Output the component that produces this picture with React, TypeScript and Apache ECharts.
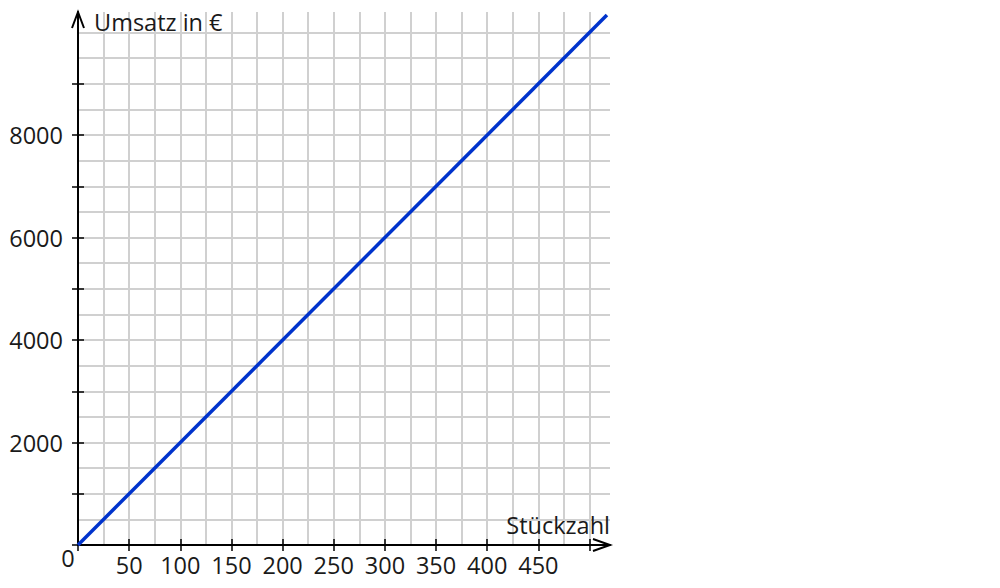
import React, { useEffect, useRef } from "react";
import * as echarts from "echarts";

// Data
const units = [0, 517];
const revenue = [0, 10340];
const xTickLabels = [50, 100, 150, 200, 250, 300, 350, 400, 450];
const yTickLabels = [2000, 4000, 6000, 8000];
const xAxisTitle = "Stückzahl";
const yAxisTitle = "Umsatz in €";

const X_MAX = 520;
const Y_MAX = 10400;
const X_GRID_MAX = 500;
const Y_GRID_MAX = 10000;
const Y_TICK_MAX = 9000;

const FONT = "'Open Sans', 'Noto Sans', sans-serif";
const TEXT_COLOR = "#1a1a1a";
const FS = 23.5;

export default function App() {
  const ref = useRef<HTMLDivElement>(null);
  useEffect(() => {
    document.body.style.margin = "0";
    const chart = echarts.init(ref.current!, null, { renderer: "svg" });
    const L = 78, T = 12, W = 532, H = 533;
    const gridColor = "#d0d0d0";
    const hidden = { show: false };
    const off = {
      axisLine: { show: false },
      axisTick: { show: false },
      axisLabel: { show: false },
      splitLine: { show: false },
    };
    chart.setOption({
      animation: false,
      textStyle: { fontFamily: FONT },
      grid: [
        { left: L, top: T, width: W, height: H },
        { left: L, top: T, width: (W * X_GRID_MAX) / X_MAX, height: H },
        { left: L, top: T + (H * (Y_MAX - Y_GRID_MAX)) / Y_MAX, width: W, height: (H * Y_GRID_MAX) / Y_MAX },
        { left: L, top: T + (H * (Y_MAX - Y_TICK_MAX)) / Y_MAX, width: W, height: (H * Y_TICK_MAX) / Y_MAX },
      ],
      xAxis: [
        { type: "value", gridIndex: 0, min: 0, max: X_MAX, z: 5, ...off, axisLine: { show: true, onZero: false, lineStyle: { color: "#000", width: 2 } } },
        { type: "value", gridIndex: 1, min: 0, max: X_GRID_MAX, interval: 25, z: 0, ...off, splitLine: { show: true, lineStyle: { color: gridColor, width: 2 } } },
        {
          type: "value", gridIndex: 1, min: 0, max: X_GRID_MAX, interval: 50, position: "bottom", z: 5, ...off,
          axisTick: { show: true, inside: false, length: 6, lineStyle: { color: "#000", width: 1.5 } },
          axisLabel: {
            show: true, margin: 8, color: TEXT_COLOR, fontSize: FS, fontFamily: FONT,
            formatter: (v: number) => (xTickLabels.includes(v) ? String(v) : ""),
          },
        },
        { type: "value", gridIndex: 1, min: 0, max: X_GRID_MAX, interval: 50, position: "bottom", z: 5, ...off, axisTick: { show: true, inside: true, length: 6, lineStyle: { color: "#000", width: 1.5 } } },
        { type: "value", gridIndex: 2, min: 0, max: X_MAX, ...hidden },
        { type: "value", gridIndex: 3, min: 0, max: X_MAX, ...hidden },
      ],
      yAxis: [
        { type: "value", gridIndex: 0, min: 0, max: Y_MAX, z: 5, ...off, axisLine: { show: true, onZero: false, lineStyle: { color: "#000", width: 2 } } },
        { type: "value", gridIndex: 1, min: 0, max: Y_MAX, ...hidden },
        { type: "value", gridIndex: 2, min: 0, max: Y_GRID_MAX, interval: 500, z: 0, ...off, splitLine: { show: true, lineStyle: { color: gridColor, width: 2 } } },
        {
          type: "value", gridIndex: 3, min: 0, max: Y_TICK_MAX, interval: 1000, position: "left", z: 5, ...off,
          axisTick: { show: true, inside: false, length: 6, lineStyle: { color: "#000", width: 1.5 } },
          axisLabel: {
            show: true, margin: 15, color: TEXT_COLOR, fontSize: FS, fontFamily: FONT,
            formatter: (v: number) => (yTickLabels.includes(v) ? String(v) : ""),
          },
        },
        { type: "value", gridIndex: 3, min: 0, max: Y_TICK_MAX, interval: 1000, position: "left", z: 5, ...off, axisTick: { show: true, inside: true, length: 6, lineStyle: { color: "#000", width: 1.5 } } },
      ],
      series: [
        {
          type: "line",
          xAxisIndex: 0,
          yAxisIndex: 0,
          z: 10,
          data: units.map((u, i) => [u, revenue[i]]),
          showSymbol: false,
          symbol: "none",
          lineStyle: { color: "#0033cc", width: 3.5 },
        },
      ],
    });

    const xEnd = chart.convertToPixel({ gridIndex: 0 }, [X_MAX, 0]) as number[];
    const yEnd = chart.convertToPixel({ gridIndex: 0 }, [0, Y_MAX]) as number[];
    const origin = chart.convertToPixel({ gridIndex: 0 }, [0, 0]) as number[];
    const arrowStyle = { stroke: "#000", lineWidth: 2, fill: "none" };
    chart.setOption({
      graphic: [
        {
          type: "polyline", z: 20,
          shape: { points: [[xEnd[0] - 17, xEnd[1] - 6], [xEnd[0], xEnd[1]], [xEnd[0] - 17, xEnd[1] + 6]] },
          style: arrowStyle,
        },
        {
          type: "polyline", z: 20,
          shape: { points: [[yEnd[0] - 6, yEnd[1] + 16], [yEnd[0], yEnd[1]], [yEnd[0] + 6, yEnd[1] + 16]] },
          style: arrowStyle,
        },
        {
          type: "text", z: 20, x: yEnd[0] + 16, y: yEnd[1] + 10,
          style: { text: yAxisTitle, font: `${FS}px ${FONT}`, fill: TEXT_COLOR, align: "left", verticalAlign: "middle" },
        },
        {
          type: "text", z: 20, x: xEnd[0], y: xEnd[1] - 20,
          style: { text: xAxisTitle, font: `${FS}px ${FONT}`, fill: TEXT_COLOR, align: "right", verticalAlign: "middle" },
        },
        {
          type: "text", z: 20, x: origin[0] - 10, y: origin[1] + 13,
          style: { text: "0", font: `${FS}px ${FONT}`, fill: TEXT_COLOR, align: "center", verticalAlign: "middle" },
        },
      ],
    });
    return () => chart.dispose();
  }, []);
  return <div ref={ref} style={{ width: 1000, height: 588 }} />;
}
